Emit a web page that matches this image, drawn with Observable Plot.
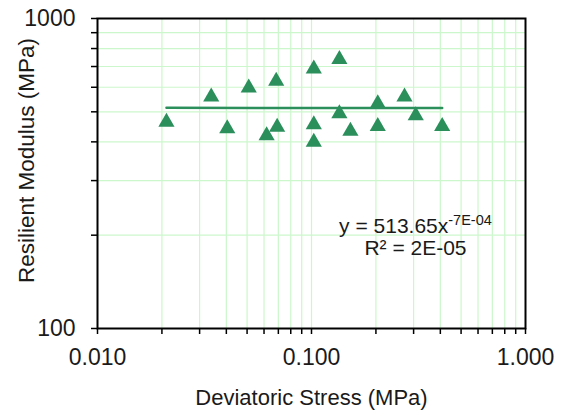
<!DOCTYPE html>
<html>
<head>
<meta charset="utf-8">
<script src="https://cdn.jsdelivr.net/npm/d3@7"></script>
<script src="https://cdn.jsdelivr.net/npm/@observablehq/plot@0.6"></script>
<style>
  body { margin: 0; background: #fff; }
  #chart svg { font-family: "Liberation Sans", Arial, sans-serif; }
</style>
</head>
<body>
<div id="chart"></div>
<script>
// Data
const stress  = [0.0210, 0.0340, 0.0404, 0.0509, 0.0617, 0.0684, 0.0691, 0.1025, 0.1025, 0.1025, 0.135, 0.135, 0.152, 0.204, 0.204, 0.272, 0.307, 0.408];
const modulus = [471, 569, 449, 608, 426, 639, 454, 700, 463, 406, 751, 502, 441, 541, 457, 569, 495, 457];

// Power trend line endpoints (y = 513.65 x^-7E-04)
const trendX = [0.021, 0.408];
const trendY = [515.0, 514.0];

// Axis ticks / gridlines
const xMajor = [0.01, 0.1, 1];
const xGrid = [0.01,0.02,0.03,0.04,0.05,0.06,0.07,0.08,0.09,0.1,0.2,0.3,0.4,0.5,0.6,0.7,0.8,0.9,1];
const yMajor = [100, 1000];
const yGrid = [100,200,300,400,500,600,700,800,900,1000];

// Annotation
const eqLines = [
  {x: 0.306, y: 204, text: "y = 513.65x"},
  {x: 0.306, y: 172, text: "R² = 2E-05"}
];

const points = stress.map((s, i) => ({x: s, y: modulus[i]}));
const trend = trendX.map((s, i) => ({x: s, y: trendY[i]}));

const green = "#2b8f5c";
const gridColor = "#ccf7cc";

const chart = Plot.plot({
  width: 565,
  height: 411,
  marginLeft: 97,
  marginRight: 40,
  marginTop: 18,
  marginBottom: 83,
  style: {fontFamily: "Liberation Sans, Arial, sans-serif", background: "#fff"},
  x: {type: "log", domain: [0.01, 1]},
  y: {type: "log", domain: [100, 1000]},
  marks: [
    Plot.ruleX(xGrid.filter(d => d > 0.01 && d < 1), {stroke: gridColor, strokeWidth: 1.2}),
    Plot.ruleY(yGrid.filter(d => d > 100 && d < 1000), {stroke: gridColor, strokeWidth: 1.2}),
    Plot.axisX({
      ticks: xGrid, tickSize: 6, tickPadding: 14, fontSize: 23, stroke: "#000", strokeWidth: 1.5,
      color: "#1a1a1a",
      tickFormat: d => xMajor.includes(d) ? d3.format(".3f")(d) : "",
      label: null
    }),
    Plot.axisY({
      ticks: yGrid, tickSize: 6, tickPadding: 16, fontSize: 23, stroke: "#000", strokeWidth: 1.5,
      color: "#1a1a1a",
      tickFormat: d => yMajor.includes(d) ? String(d) : "",
      label: null
    }),
    Plot.frame({stroke: "#000", strokeWidth: 2}),
    Plot.line(trend, {x: "x", y: "y", stroke: green, strokeWidth: 2.5}),
    Plot.dot(points, {x: "x", y: "y", symbol: "triangle", r: 6, fill: green, stroke: "none", dy: 2.3}),
    Plot.text(eqLines, {x: "x", y: "y", text: "text", fontSize: 21, fill: "#1a1a1a", lineAnchor: "bottom", textAnchor: "middle"}),
    Plot.text(["Deviatoric Stress (MPa)"], {frameAnchor: "bottom", dy: 69, fontSize: 22, fill: "#1a1a1a", lineAnchor: "middle", textAnchor: "middle"}),
    Plot.text(["Resilient Modulus (MPa)"], {frameAnchor: "left", dx: -71, dy: -13, rotate: -90, fontSize: 22.5, fill: "#1a1a1a", lineAnchor: "middle", textAnchor: "middle"})
  ]
});

document.getElementById("chart").appendChild(chart);

// superscript exponent on the equation
d3.select(chart).selectAll("text").each(function() {
  if (this.textContent === "y = 513.65x") {
    d3.select(this).append("tspan").attr("font-size", 14.5).attr("dy", -8).text("-7E-04");
  }
});
</script>
</body>
</html>
